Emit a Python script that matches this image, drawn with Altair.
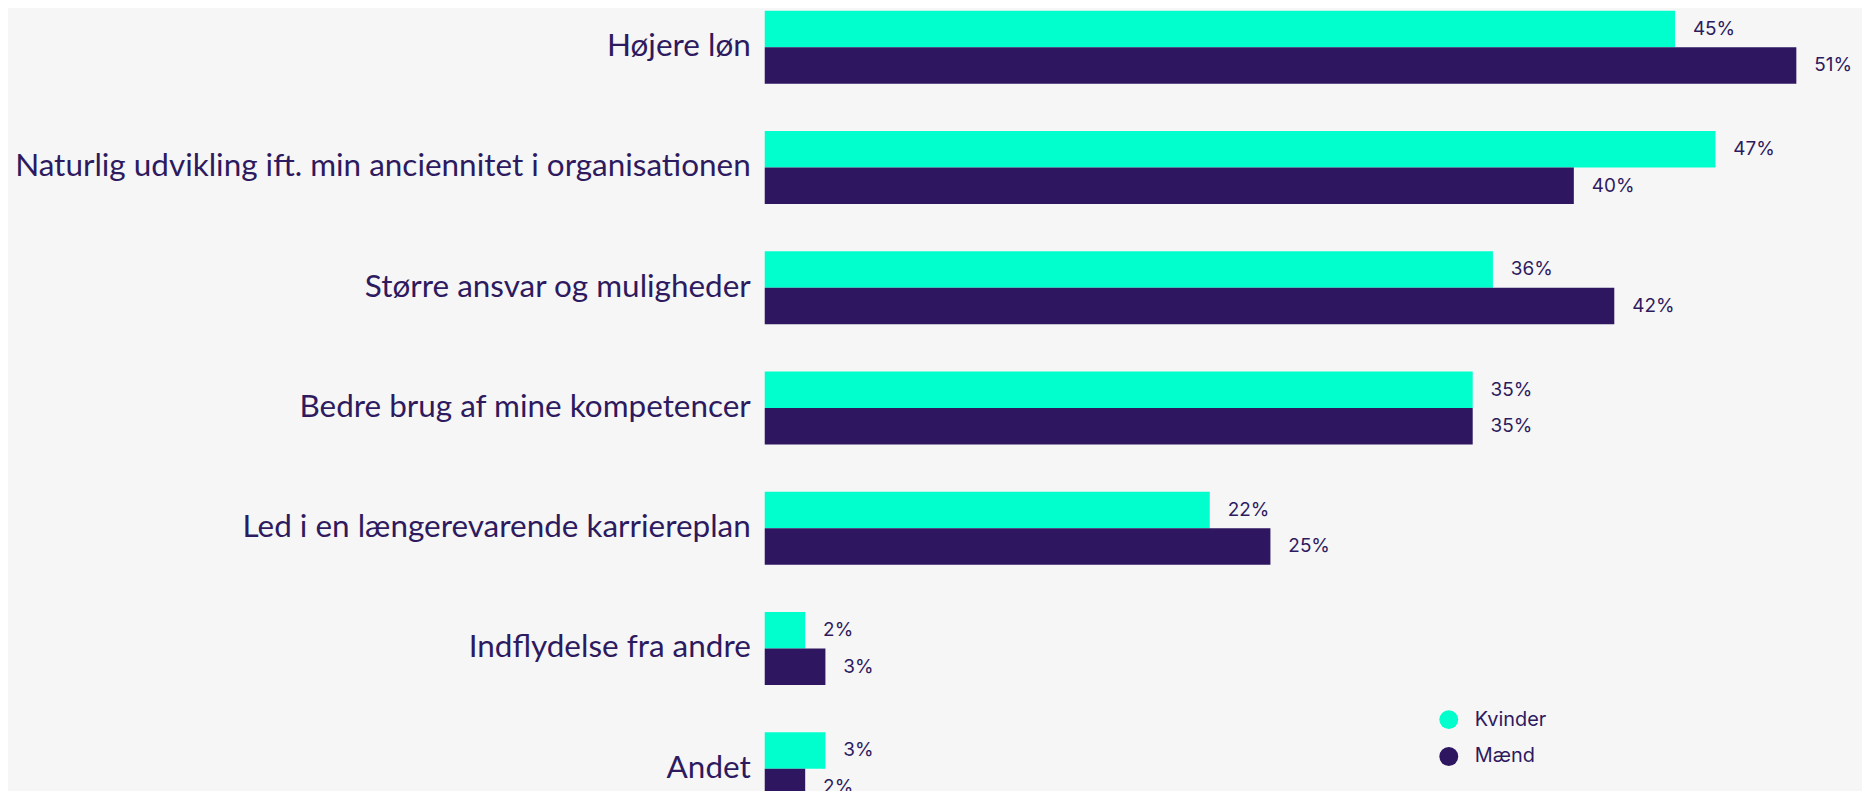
import altair as alt
import pandas as pd

categories = [
    "Højere løn",
    "Naturlig udvikling ift. min anciennitet i organisationen",
    "Større ansvar og muligheder",
    "Bedre brug af mine kompetencer",
    "Led i en længerevarende karriereplan",
    "Indflydelse fra andre",
    "Andet",
]
series = ["Kvinder", "Mænd"]
kvinder = [45, 47, 36, 35, 22, 2, 3]
maend = [51, 40, 42, 35, 25, 3, 2]
colors = ["#00ffcc", "#2e1760"]
text_color = "#2e1a5e"

rows = []
for c, k, m in zip(categories, kvinder, maend):
    rows.append({"cat": c, "series": series[0], "value": k})
    rows.append({"cat": c, "series": series[1], "value": m})
df = pd.DataFrame(rows)
cat_df = pd.DataFrame({"cat": categories})

y_scale = alt.Scale(range=[0, 798], paddingInner=0.393, paddingOuter=0)
y_enc = alt.Y("cat:N", sort=categories, scale=y_scale, axis=None)
yoff = alt.YOffset("series:N", sort=series, scale=alt.Scale(paddingInner=0, paddingOuter=0))
x_enc = alt.X("value:Q", scale=alt.Scale(domain=[0, 54], nice=False, zero=True), axis=None)

bars = alt.Chart(df).mark_bar(cornerRadius=0).encode(
    x=x_enc,
    y=y_enc,
    yOffset=yoff,
    color=alt.Color(
        "series:N",
        scale=alt.Scale(domain=series, range=colors),
        legend=alt.Legend(
            orient="none",
            legendX=677,
            legendY=702,
            title=None,
            symbolType="circle",
            symbolSize=361,
            symbolStrokeWidth=0,
            labelFontSize=20,
            labelFont="Inter",
            labelColor=text_color,
            labelOffset=16,
            rowPadding=17,
        ),
    ),
)

values = alt.Chart(df).transform_calculate(
    label="datum.value + '%'"
).mark_text(
    align="left", baseline="middle", dx=18, fontSize=19, font="Inter", color=text_color
).encode(
    x=x_enc,
    y=y_enc,
    yOffset=yoff,
    text="label:N",
)

labels = alt.Chart(cat_df).mark_text(
    align="right", baseline="middle", fontSize=31.6, font="Lato", color=text_color
).encode(
    x=alt.value(-14),
    y=y_enc,
    text="cat:N",
)

chart = alt.layer(bars, values, labels).properties(
    width=1097,
    height=782,
    autosize=alt.AutoSizeParams(type="none"),
    padding={"left": 760, "top": 1, "right": 5, "bottom": 0},
    background="#f6f6f6",
).configure_view(stroke=None)

chart.save("out.html", embed_options={"renderer": "svg", "actions": False})
